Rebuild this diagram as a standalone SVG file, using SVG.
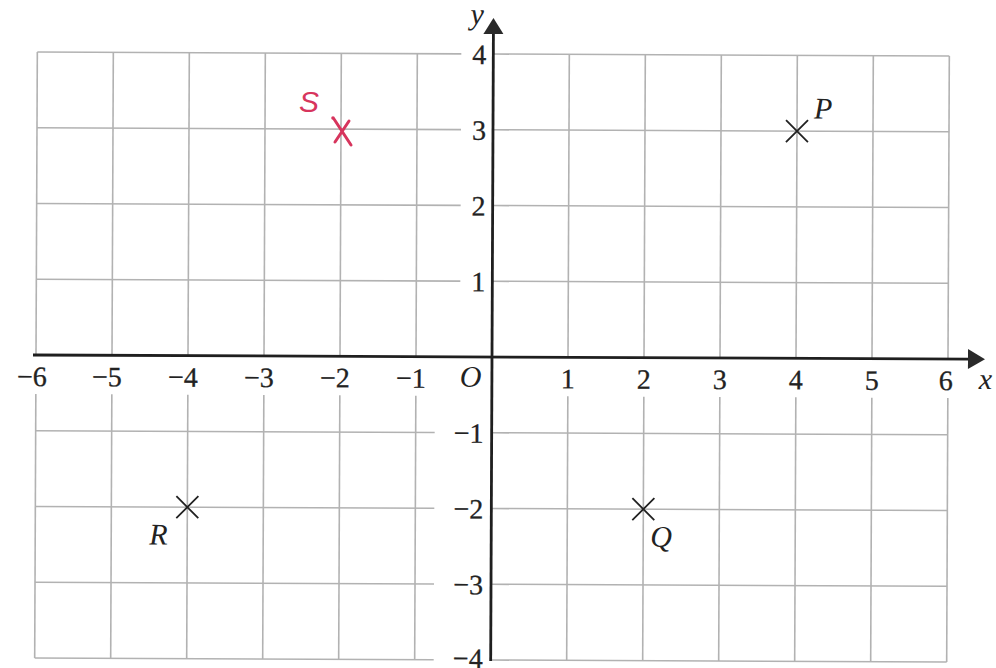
<svg xmlns="http://www.w3.org/2000/svg" width="996" height="668" viewBox="0 0 996 668">
<style>
.grid line{stroke:#b2b2b2;stroke-width:1.6}
.axis{stroke:#1f1f1f;stroke-width:2.8;fill:none}
.head{fill:#2a2a2a}
.num{font-size:28px;fill:#222;stroke:#222;stroke-width:0.3}
.xl{text-anchor:middle}
.yl{text-anchor:end}
.it{font-style:italic;font-size:30px;fill:#222}
.cross{stroke:#222;stroke-width:1.8;fill:none}
.red{stroke:#d7355d;stroke-width:3;stroke-linecap:round;fill:none}
</style>
<rect width="996" height="668" fill="#ffffff"/>
<g transform="rotate(0.25 492 357)" font-family="'Liberation Serif','DejaVu Serif','Times New Roman',serif">
<g id="grid" class="grid">
<line x1="36" y1="54" x2="36" y2="357"/><line x1="36" y1="396" x2="36" y2="660"/>
<line x1="112" y1="54" x2="112" y2="357"/><line x1="112" y1="396" x2="112" y2="660"/>
<line x1="188" y1="54" x2="188" y2="357"/><line x1="188" y1="396" x2="188" y2="660"/>
<line x1="264" y1="54" x2="264" y2="357"/><line x1="264" y1="396" x2="264" y2="660"/>
<line x1="340" y1="54" x2="340" y2="357"/><line x1="340" y1="396" x2="340" y2="660"/>
<line x1="416" y1="54" x2="416" y2="357"/><line x1="416" y1="396" x2="416" y2="660"/>
<line x1="568" y1="54" x2="568" y2="357"/><line x1="568" y1="396" x2="568" y2="660"/>
<line x1="644" y1="54" x2="644" y2="357"/><line x1="644" y1="396" x2="644" y2="660"/>
<line x1="720" y1="54" x2="720" y2="357"/><line x1="720" y1="396" x2="720" y2="660"/>
<line x1="796" y1="54" x2="796" y2="357"/><line x1="796" y1="396" x2="796" y2="660"/>
<line x1="872" y1="54" x2="872" y2="357"/><line x1="872" y1="396" x2="872" y2="660"/>
<line x1="948" y1="54" x2="948" y2="357"/><line x1="948" y1="396" x2="948" y2="660"/>
<line x1="36" y1="54" x2="460" y2="54"/><line x1="492" y1="54" x2="948" y2="54"/>
<line x1="36" y1="129.75" x2="460" y2="129.75"/><line x1="492" y1="129.75" x2="948" y2="129.75"/>
<line x1="36" y1="205.5" x2="460" y2="205.5"/><line x1="492" y1="205.5" x2="948" y2="205.5"/>
<line x1="36" y1="281.25" x2="460" y2="281.25"/><line x1="492" y1="281.25" x2="948" y2="281.25"/>
<line x1="36" y1="432.75" x2="435" y2="432.75"/><line x1="492" y1="432.75" x2="948" y2="432.75"/>
<line x1="36" y1="508.5" x2="435" y2="508.5"/><line x1="492" y1="508.5" x2="948" y2="508.5"/>
<line x1="36" y1="584.25" x2="435" y2="584.25"/><line x1="492" y1="584.25" x2="948" y2="584.25"/>
<line x1="36" y1="660" x2="435" y2="660"/><line x1="492" y1="660" x2="948" y2="660"/>
</g>
<g id="axes">
<line class="axis" x1="33" y1="357" x2="970" y2="357"/>
<polygon class="head" points="985,357 968,347 968,367"/>
<line class="axis" x1="492" y1="661" x2="492" y2="32"/>
<polygon class="head" points="492,18 482,34 502,34"/>
<text class="it" x="979" y="387" font-size="28">x</text>
<text class="it" x="469" y="24" font-size="28">y</text>
<text class="it" x="460" y="387" font-size="28">O</text>
</g>
<g id="xlabels" class="num xl">
<text x="32" y="388">−6</text>
<text x="107" y="388">−5</text>
<text x="183" y="388">−4</text>
<text x="259" y="388">−3</text>
<text x="335" y="388">−2</text>
<text x="411" y="388">−1</text>
<text x="568" y="388">1</text>
<text x="644" y="388">2</text>
<text x="720" y="388">3</text>
<text x="796" y="388">4</text>
<text x="872" y="388">5</text>
<text x="946" y="388">6</text>
</g>
<g id="ylabels" class="num yl">
<text x="485" y="64">4</text>
<text x="485" y="139.75">3</text>
<text x="485" y="215.5">2</text>
<text x="485" y="291.25">1</text>
<text x="484" y="442.75">−1</text>
<text x="484" y="518.5">−2</text>
<text x="484" y="594.25">−3</text>
<text x="484" y="668">−4</text>
</g>
<g id="P">
<path class="cross" d="M785,118.75 L807,140.75 M807,118.75 L785,140.75"/>
<text class="it" x="813" y="117">P</text>
</g>
<g id="Q">
<path class="cross" d="M633,497.5 L655,519.5 M655,497.5 L633,519.5"/>
<text class="it" x="651" y="546">Q</text>
</g>
<g id="R">
<path class="cross" d="M177,497.5 L199,519.5 M199,497.5 L177,519.5"/>
<text class="it" x="150" y="546">R</text>
</g>
</g>
<g id="S">
<path class="red" d="M334,119 L351,145 M335,142 L349,121"/>
<circle cx="333" cy="118" r="1.8" fill="#d7355d"/>
<text x="299" y="112" font-family="'Liberation Sans',sans-serif" font-size="30" font-style="italic" fill="#d7355d">S</text>
</g>
</svg>
